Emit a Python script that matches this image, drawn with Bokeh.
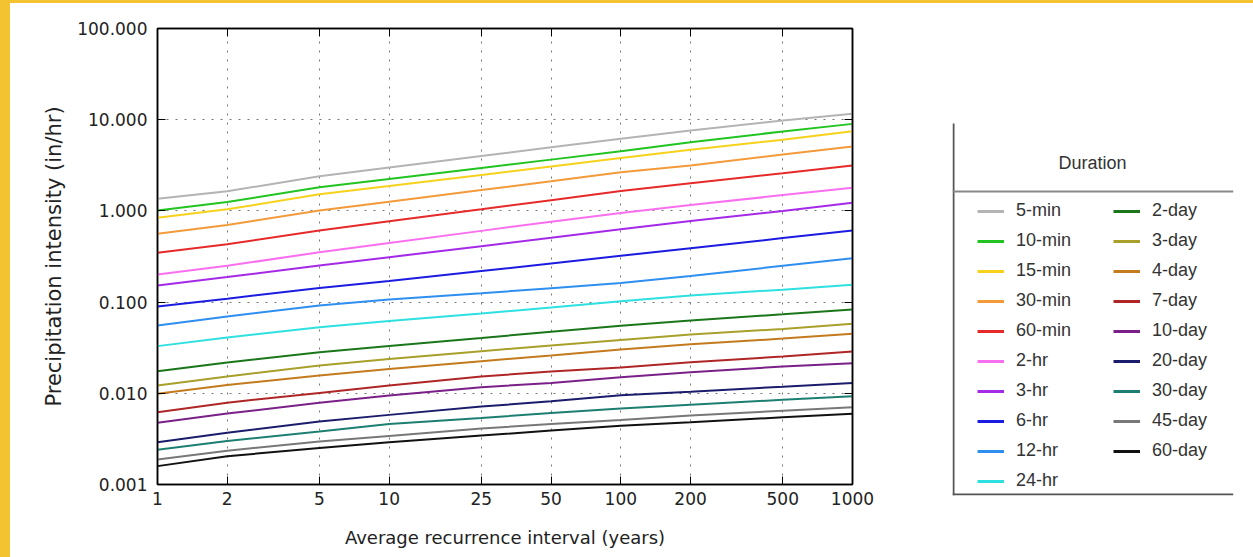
from bokeh.plotting import figure
from bokeh.models import (FixedTicker, PrintfTickFormatter, LogAxis, Legend, LegendItem,
                          Label, Range1d, Spacer)
from bokeh.layouts import row, column
from bokeh.embed import file_html
from bokeh.resources import INLINE

# Average recurrence interval (years)
T = [1, 2, 5, 10, 25, 50, 100, 200, 500, 1000]

# Precipitation intensity (in/hr) per duration
min5 = [1.36, 1.64, 2.40, 2.99, 4.00, 4.98, 6.20, 7.60, 9.80, 11.6]
min10 = [1.01, 1.25, 1.82, 2.24, 2.96, 3.65, 4.50, 5.67, 7.43, 9.00]
min15 = [0.84, 1.04, 1.52, 1.88, 2.48, 3.07, 3.80, 4.68, 6.03, 7.48]
min30 = [0.561, 0.70, 1.01, 1.26, 1.69, 2.11, 2.65, 3.15, 4.15, 5.08]
min60 = [0.347, 0.43, 0.61, 0.77, 1.04, 1.31, 1.65, 2.01, 2.59, 3.15]
hr2 = [0.201, 0.25, 0.352, 0.444, 0.604, 0.762, 0.95, 1.16, 1.49, 1.79]
hr3 = [0.152, 0.188, 0.252, 0.311, 0.41, 0.507, 0.63, 0.775, 1.00, 1.23]
hr6 = [0.0895, 0.109, 0.143, 0.170, 0.219, 0.265, 0.322, 0.390, 0.503, 0.61]
hr12 = [0.0553, 0.0695, 0.0918, 0.107, 0.125, 0.142, 0.162, 0.193, 0.250, 0.303]
hr24 = [0.0329, 0.041, 0.053, 0.062, 0.075, 0.087, 0.102, 0.118, 0.137, 0.155]
day2 = [0.0175, 0.0218, 0.0282, 0.0331, 0.0405, 0.0472, 0.055, 0.063, 0.0735, 0.083]
day3 = [0.0122, 0.0153, 0.0202, 0.0238, 0.0290, 0.0335, 0.0385, 0.0441, 0.0508, 0.0578]
day4 = [0.00987, 0.0123, 0.01567, 0.0185, 0.0225, 0.026, 0.0302, 0.0344, 0.0398, 0.0449]
day7 = [0.00621, 0.0079, 0.0101, 0.0122, 0.0153, 0.0173, 0.0192, 0.0219, 0.0253, 0.0287]
day10 = [0.00475, 0.0060, 0.00786, 0.00946, 0.01168, 0.0130, 0.0150, 0.0170, 0.0197, 0.0214]
day20 = [0.00291, 0.0037, 0.00491, 0.0058, 0.00716, 0.00816, 0.0095, 0.0104, 0.0118, 0.0130]
day30 = [0.0024, 0.0030, 0.00381, 0.0046, 0.00537, 0.00608, 0.0068, 0.00747, 0.0085, 0.00929]
day45 = [0.00188, 0.00235, 0.00296, 0.0034, 0.0041, 0.0046, 0.0051, 0.00571, 0.00645, 0.00704]
day60 = [0.00159, 0.00204, 0.00252, 0.00291, 0.00344, 0.0039, 0.0044, 0.00482, 0.00545, 0.00595]

durations = ["5-min", "10-min", "15-min", "30-min", "60-min", "2-hr", "3-hr", "6-hr",
             "12-hr", "24-hr", "2-day", "3-day", "4-day", "7-day", "10-day", "20-day",
             "30-day", "45-day", "60-day"]
series = [min5, min10, min15, min30, min60, hr2, hr3, hr6, hr12, hr24,
          day2, day3, day4, day7, day10, day20, day30, day45, day60]
colors = ["#b4b4b4", "#22c422", "#f7d21c", "#f39a3a", "#e62a2a", "#f870f0", "#a52ae8",
          "#1c1ce0", "#2f8ff0", "#2ee0e0", "#1b761b", "#a8a02a", "#c47a1e", "#b02626",
          "#7a2088", "#1c1c6c", "#1d7f72", "#787878", "#111111"]

x_ticks = [1, 2, 5, 10, 25, 50, 100, 200, 500, 1000]
y_ticks = [0.001, 0.01, 0.1, 1, 10, 100]

FONT = "DejaVu Sans"
YELLOW = "#F3C332"


def no_frame_align(fig):
    if "frame_align" in fig.properties():
        fig.frame_align = False


p = figure(x_axis_type="log", y_axis_type="log",
           x_range=Range1d(1, 1000), y_range=Range1d(0.001, 100),
           frame_width=695, frame_height=456,
           min_border_left=147, min_border_right=88, min_border_top=25, min_border_bottom=73,
           output_backend="svg", toolbar_location=None)
no_frame_align(p)
p.outline_line_color = "black"
p.outline_line_width = 1.5

xt = FixedTicker(ticks=x_ticks, minor_ticks=[])
yt = FixedTicker(ticks=y_ticks, minor_ticks=[])

p.xaxis.ticker = xt
p.yaxis.ticker = yt
p.xaxis.formatter = PrintfTickFormatter(format="%d")
p.yaxis.formatter = PrintfTickFormatter(format="%.3f")
for ax in (p.xaxis, p.yaxis):
    ax.major_tick_in = 8
    ax.major_tick_out = 0
    ax.minor_tick_in = 0
    ax.minor_tick_out = 0
    ax.major_tick_line_color = "black"
    ax.axis_line_color = "black"
    ax.axis_line_width = 1.5
    ax.major_label_text_font = FONT
    ax.major_label_text_font_size = "17px"
    ax.major_label_text_color = "#222222"
    ax.axis_label_text_font = FONT
    ax.axis_label_text_font_style = "normal"
    ax.axis_label_text_color = "#222222"

p.xaxis.axis_label = "Average recurrence interval (years)"
p.yaxis.axis_label = "Precipitation intensity (in/hr)"
p.yaxis.axis_label_text_font_size = "21px"
p.xaxis.axis_label_text_font_size = "18px"
p.yaxis.major_label_standoff = 10
p.yaxis.axis_label_standoff = 8
p.xaxis.major_label_standoff = 7
p.xaxis.axis_label_standoff = 19

for loc, ticks in (("right", y_ticks), ("above", x_ticks)):
    ax = LogAxis(ticker=FixedTicker(ticks=ticks, minor_ticks=[]),
                 major_label_text_font_size="1px", major_label_text_alpha=0,
                 major_label_standoff=0,
                 major_tick_in=8, major_tick_out=0, minor_tick_in=0, minor_tick_out=0,
                 axis_line_color="black", axis_line_width=1.5)
    p.add_layout(ax, loc)

p.xgrid.ticker = xt
p.ygrid.ticker = yt
p.grid.grid_line_color = "#555555"
p.grid.grid_line_dash = "2 7"
p.grid.grid_line_width = 1
p.grid.grid_line_alpha = 0.8

for vals, c in zip(series, colors):
    p.line(T, vals, line_color=c, line_width=2)

# ---- legend panel (ranges in pixel units of its frame) ----
q = figure(x_range=Range1d(0, 281), y_range=Range1d(0, 467),
           frame_width=281, frame_height=467,
           min_border_left=12, min_border_right=10, min_border_top=25, min_border_bottom=62,
           x_axis_location=None, y_axis_location=None,
           output_backend="svg", toolbar_location=None)
no_frame_align(q)
q.outline_line_color = None
q.grid.visible = False

q.line([1, 1], [0, 372], line_color="#555555", line_width=2)
q.line([0, 281], [1, 1], line_color="#555555", line_width=2)
q.line([0, 281], [304, 304], line_color="#888888", line_width=2)
q.add_layout(Label(x=140, y=333, text="Duration", text_align="center", text_baseline="middle",
                   text_font="Liberation Sans", text_font_size="18px", text_color="#333333"))

items = []
for name, c in zip(durations, colors):
    r = q.line(x=[0], y=[-100], line_color=c, line_width=3)
    items.append(LegendItem(label=name, renderers=[r]))

leg = Legend(items=items, nrows=10, location=(25, 4),
             glyph_width=27, glyph_height=20, label_height=20, label_width=88,
             label_standoff=12, spacing=9, padding=0, margin=0,
             border_line_color=None, background_fill_alpha=0,
             label_text_font="Liberation Sans", label_text_font_size="18px",
             label_text_color="#333333")
q.add_layout(leg)

left_strip = Spacer(width=10, height=554, styles={"background-color": YELLOW})
top_strip = Spacer(width=1253, height=3, styles={"background-color": YELLOW})

layout = column(top_strip, row(left_strip, p, q))
open("out.html", "w").write(file_html(layout, INLINE))
